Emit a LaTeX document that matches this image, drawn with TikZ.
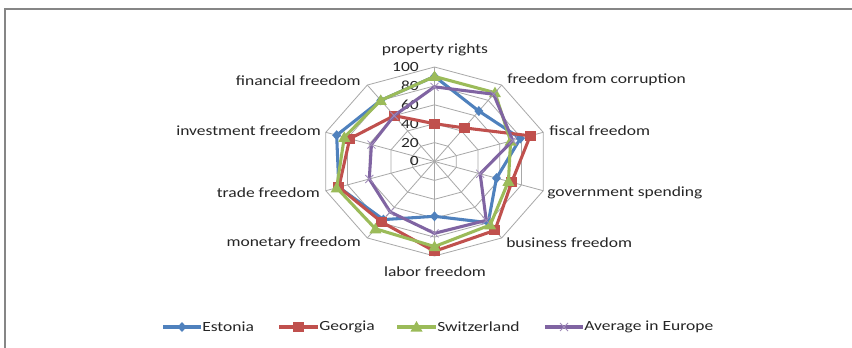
\documentclass[tikz,border=0pt]{standalone}
\usepackage{fontspec}
\setmainfont{Carlito}[FakeStretch=1.25]
\definecolor{cE}{HTML}{4F81BD}
\definecolor{cG}{HTML}{C0504D}
\definecolor{cS}{HTML}{9BBB59}
\definecolor{cA}{HTML}{8064A2}
\definecolor{gridc}{HTML}{A8A8A8}
\definecolor{framec}{HTML}{868686}
\definecolor{txtc}{HTML}{262626}
\def\cx{434.5}
\def\cy{161.5}
\newcommand\mkseries[2]{%
  \foreach \v [count=\i from 0] in {#2} {%
    \coordinate (#1\i) at ({\cx+1.143*\v*sin(36*\i)},{\cy-0.945*\v*cos(36*\i)});
  }%
}
\begin{document}
\begin{tikzpicture}[x=0.75pt,y=-0.75pt,
  lbl/.style={font=\fontsize{10.5}{12}\selectfont, text=txtc, inner sep=0pt},
  gridl/.style={draw=gridc, line width=0.6pt},
  serline/.style={line width=2.3pt, line join=round},
  dmark/.style={fill=cE},
  smark/.style={fill=cG},
  tmark/.style={fill=cS},
  xmark/.style={draw=cA!75, line width=0.6pt}]
\useasboundingbox (0,0) rectangle (852,347);
\fill[white] (0,0) rectangle (852,347);
\begin{scope}
  \clip (0,0) rectangle (852,347);
  \draw[framec, line width=1.1pt] (5,9) rectangle (900,400);
\end{scope}
% grid
\coordinate (O) at (\cx,\cy);
\foreach \k in {0,...,9} {
  \coordinate (V\k) at ({\cx+114.3*sin(36*\k)},{\cy-94.5*cos(36*\k)});
  \draw[gridl] (O) -- (V\k);
}
\foreach \lev in {20,40,60,80,100} {
  \draw[gridl] ({\cx},{\cy-0.945*\lev}) \foreach \k in {1,...,9}{ -- ({\cx+1.143*\lev*sin(36*\k)},{\cy-0.945*\lev*cos(36*\k)})} -- cycle;
}
% value labels
\foreach \lev in {0,20,40,60,80,100} {
  \node[lbl, anchor=east] (val\lev) at (419,{\cy-0.945*\lev}) {\lev};
}
% axis labels
\node[lbl] (lprop) at (435,50) {property rights};
\node[lbl, anchor=west] (lcorr) at (507,80) {freedom from corruption};
\node[lbl, anchor=west] (lfisc) at (549,131) {fiscal freedom};
\node[lbl, anchor=west] (lgov) at (547,193) {government spending};
\node[lbl, anchor=west] (lbus) at (506,243) {business freedom};
\node[lbl] (llab) at (435,272) {labor freedom};
\node[lbl, anchor=east] (lmon) at (361,243) {monetary freedom};
\node[lbl, anchor=east] (ltrade) at (320,193) {trade freedom};
\node[lbl, anchor=east] (linv) at (321,131) {investment freedom};
\node[lbl, anchor=east] (lfin) at (361,81) {financial freedom};
% data
\mkseries{E}{90,66,79,57,80,58,76,88,90,80}
\mkseries{G}{40,44,88,71,90,95,79,88,78,60}
\mkseries{S}{90,90,70,68,83,90,88,90,83,80}
\mkseries{A}{79,88,72,42,77,76,66,60,58,60}
% Estonia
\draw[cE, serline] (E0) -- (E1) -- (E2) -- (E3) -- (E4) -- (E5) -- (E6) -- (E7) -- (E8) -- (E9) -- cycle;
\foreach \i in {0,...,9} \fill[dmark, shift={(E\i)}] (0,-5) -- (4.5,0) -- (0,5) -- (-4.5,0) -- cycle;
% Georgia
\draw[cG, serline] (G0) -- (G1) -- (G2) -- (G3) -- (G4) -- (G5) -- (G6) -- (G7) -- (G8) -- (G9) -- cycle;
\foreach \i in {0,...,9} \fill[smark, shift={(G\i)}] (-5.5,-5) rectangle (5.5,5);
% Switzerland
\draw[cS, serline] (S0) -- (S1) -- (S2) -- (S3) -- (S4) -- (S5) -- (S6) -- (S7) -- (S8) -- (S9) -- cycle;
\foreach \i in {0,...,9} \fill[tmark, shift={(S\i)}] (0,-6) -- (6,4.5) -- (-6,4.5) -- cycle;
% Average in Europe
\draw[cA, serline] (A0) -- (A1) -- (A2) -- (A3) -- (A4) -- (A5) -- (A6) -- (A7) -- (A8) -- (A9) -- cycle;
\foreach \i in {0,...,9} \draw[xmark, shift={(A\i)}] (-4,-4) -- (4,4) (-4,4) -- (4,-4);
% legend
\coordinate (le1) at (163,327); \coordinate (le2) at (201,327); \coordinate (lem) at (182,327);
\draw[cE, serline] (le1) -- (le2);
\fill[dmark, shift={(lem)}] (0,-5) -- (4.5,0) -- (0,5) -- (-4.5,0) -- cycle;
\node[lbl, anchor=west] (tE) at (202,327) {Estonia};
\coordinate (lg1) at (279,327); \coordinate (lg2) at (318,327); \coordinate (lgm) at (298.5,327);
\draw[cG, serline] (lg1) -- (lg2);
\fill[smark, shift={(lgm)}] (-5.5,-5) rectangle (5.5,5);
\node[lbl, anchor=west] (tG) at (319,327) {Georgia};
\coordinate (ls1) at (397,327); \coordinate (ls2) at (436,327); \coordinate (lsm) at (416.5,327);
\draw[cS, serline] (ls1) -- (ls2);
\fill[tmark, shift={(lsm)}] (0,-6) -- (6,4.5) -- (-6,4.5) -- cycle;
\node[lbl, anchor=west] (tS) at (437,327) {Switzerland};
\coordinate (la1) at (545,327); \coordinate (la2) at (583,327); \coordinate (lam) at (564,327);
\draw[cA, serline] (la1) -- (la2);
\draw[xmark, shift={(lam)}] (-4,-4) -- (4,4) (-4,4) -- (4,-4);
\node[lbl, anchor=west] (tA) at (584,327) {Average in Europe};
\end{tikzpicture}
\end{document}
